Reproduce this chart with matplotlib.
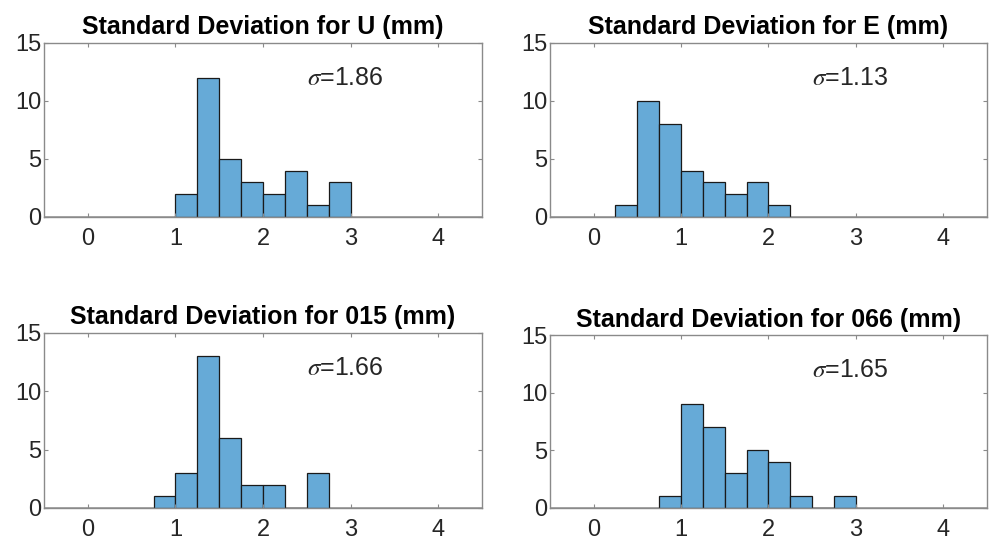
import numpy as np
import matplotlib.pyplot as plt

plt.rcParams['font.family'] = ['Liberation Sans', 'DejaVu Sans']
plt.rcParams['mathtext.fontset'] = 'stix'

# histogram bin edges (width 0.25) and counts
edges_U = np.array([1.0, 1.25, 1.5, 1.75, 2.0, 2.25, 2.5, 2.75, 3.0])
counts_U = [2, 12, 5, 3, 2, 4, 1, 3]

edges_E = np.array([0.25, 0.5, 0.75, 1.0, 1.25, 1.5, 1.75, 2.0, 2.25])
counts_E = [1, 10, 8, 4, 3, 2, 3, 1]

edges_015 = np.array([0.75, 1.0, 1.25, 1.5, 1.75, 2.0, 2.25, 2.5, 2.75])
counts_015 = [1, 3, 13, 6, 2, 2, 0, 3]

edges_066 = np.array([0.75, 1.0, 1.25, 1.5, 1.75, 2.0, 2.25, 2.5, 2.75, 3.0])
counts_066 = [1, 9, 7, 3, 5, 4, 1, 0, 1]

titles = ['Standard Deviation for U (mm)', 'Standard Deviation for E (mm)',
          'Standard Deviation for 015 (mm)', 'Standard Deviation for 066 (mm)']
sigmas = ['1.86', '1.13', '1.66', '1.65']

panels = [(edges_U, counts_U), (edges_E, counts_E),
          (edges_015, counts_015), (edges_066, counts_066)]

# axes boxes in figure fraction [left, bottom, width, height]
boxes = [[0.0445, 0.6026, 0.443, 0.319],
         [0.556, 0.6026, 0.442, 0.319],
         [0.0445, 0.0696, 0.443, 0.321],
         [0.556, 0.0696, 0.442, 0.316]]

fig = plt.figure(figsize=(9.89, 5.46), dpi=100)

for box, (edges, counts), title, s in zip(boxes, panels, titles, sigmas):
    ax = fig.add_axes(box)
    ax.bar(edges[:-1], counts, width=np.diff(edges), align='edge',
           color='#66aad7', edgecolor='#1a1a1a', linewidth=0.9)
    ax.axhline(0, color='#9a9a9a', linewidth=1.2, zorder=0)
    ax.set_xlim(-0.5, 4.5)
    ax.set_ylim(0, 15)
    ax.set_xticks([0, 1, 2, 3, 4])
    ax.set_yticks([0, 5, 10, 15])
    ax.tick_params(direction='in', top=True, right=True, length=3,
                   labelsize=17, colors='#8a8a8a', labelcolor='#262626')
    ax.tick_params(axis='x', pad=8)
    ax.tick_params(axis='y', pad=2)
    for sp in ax.spines.values():
        sp.set_color('#8a8a8a')
        sp.set_linewidth(1.0)
    ax.set_title(title, fontsize=18, fontweight='bold', pad=6)
    ax.text(2.5, 12, r'$\sigma$=' + s, fontsize=18, va='center', ha='left',
            color='#262626')

fig.savefig('out.png', dpi=100)
